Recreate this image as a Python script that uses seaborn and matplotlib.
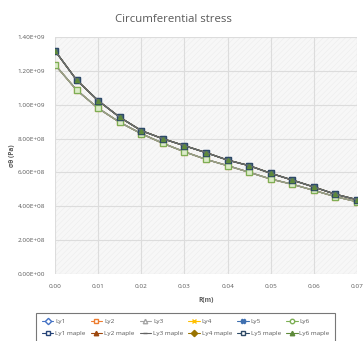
import numpy as np
import pandas as pd
import seaborn as sns
import matplotlib
matplotlib.use("Agg")
import matplotlib.pyplot as plt
from matplotlib.lines import Line2D
from matplotlib.patches import Rectangle
from matplotlib.ticker import FuncFormatter, MultipleLocator

# ---- data ----
r_values = [0.000, 0.005, 0.010, 0.015, 0.020, 0.025, 0.030, 0.035,
            0.040, 0.045, 0.050, 0.055, 0.060, 0.065, 0.070]
ly_stress = [1.236e9, 1.087e9, 0.979e9, 0.896e9, 0.829e9, 0.772e9, 0.722e9, 0.677e9,
             0.640e9, 0.601e9, 0.561e9, 0.530e9, 0.494e9, 0.457e9, 0.427e9]
maple_stress = [1.319e9, 1.146e9, 1.024e9, 0.926e9, 0.847e9, 0.799e9, 0.758e9, 0.717e9,
                0.673e9, 0.640e9, 0.595e9, 0.555e9, 0.514e9, 0.471e9, 0.439e9]
series_names = ["Ly1", "Ly2", "Ly3", "Ly4", "Ly5", "Ly6",
                "Ly1 maple", "Ly2 maple", "Ly3 maple", "Ly4 maple", "Ly5 maple", "Ly6 maple"]
title = "Circumferential stress"
x_label = "R(m)"
y_label = "σθ (Pa)"

# ---- styles ----
colors = {"Ly1": "#4472C4", "Ly2": "#ED7D31", "Ly3": "#A5A5A5", "Ly4": "#FFC000",
          "Ly5": "#3F6FB0", "Ly6": "#7DAF55",
          "Ly1 maple": "#264478", "Ly2 maple": "#9E480E", "Ly3 maple": "#636363",
          "Ly4 maple": "#997300", "Ly5 maple": "#2E4A66", "Ly6 maple": "#5E8A3A"}
legend_markers = {"Ly1": "D", "Ly2": "s", "Ly3": "^", "Ly4": "x", "Ly5": "X", "Ly6": "o",
                  "Ly1 maple": "s", "Ly2 maple": "^", "Ly3 maple": "_", "Ly4 maple": "D",
                  "Ly5 maple": "s", "Ly6 maple": "^"}
plot_markers = dict(legend_markers)
plot_markers["Ly6"] = "s"
line_colors = dict(colors)
line_colors["Ly6"] = "#9DA386"
line_colors["Ly6 maple"] = "#6B6F70"

rows = []
for name in series_names:
    vals = maple_stress if "maple" in name else ly_stress
    for x, y in zip(r_values, vals):
        rows.append({"R": x, "stress": y, "series": name})
df = pd.DataFrame(rows)

sns.set_style("white")
plt.rcParams["font.family"] = ["Open Sans", "DejaVu Sans"]
plt.rcParams["hatch.linewidth"] = 0.35
plt.rcParams["hatch.color"] = "#ebebeb"

fig = plt.figure(figsize=(3.63, 3.41), dpi=100)
ax = fig.add_axes([55 / 363, 1 - 274 / 341, (357 - 55) / 363, (274 - 37) / 341])
ax.set_facecolor("#f7f7f7")
ax.add_patch(Rectangle((0, 0), 1, 1, transform=ax.transAxes, facecolor="none",
                       edgecolor="#ebebeb", hatch="//////", lw=0, zorder=0))

for name in series_names:
    sub = df[df["series"] == name]
    mfc = "#dcebc8" if name == "Ly6" else colors[name]
    if name in ("Ly5 maple", "Ly1 maple"):
        mfc = "#4d6a7a"
    sns.lineplot(data=sub, x="R", y="stress", ax=ax, color=line_colors[name],
                 marker=plot_markers[name], markersize=4.6 if plot_markers[name] == "s" else 3.0,
                 markerfacecolor=mfc, markeredgecolor=colors[name], markeredgewidth=0.9,
                 linewidth=0.9, legend=False, zorder=3)

ax.set_xlim(0, 0.07)
ax.set_ylim(0, 1.4e9)
ax.xaxis.set_major_locator(MultipleLocator(0.01))
ax.yaxis.set_major_locator(MultipleLocator(0.2e9))
ax.xaxis.set_major_formatter(FuncFormatter(lambda v, p: f"{v:.2f}"))
ax.yaxis.set_major_formatter(FuncFormatter(lambda v, p: f"{v:.2E}"))
ax.grid(True, color="#dcdcdc", linewidth=0.8)
ax.set_axisbelow(True)
for s in ax.spines.values():
    s.set_visible(False)
ax.tick_params(axis="both", length=0, labelsize=4.6, labelcolor="#595959", pad=7)

ax.set_xlabel(x_label, fontsize=4.8, color="#595959", fontweight="bold", labelpad=6)
ax.set_ylabel(y_label, fontsize=4.8, color="#595959", fontweight="bold", labelpad=1)
fig.text(173 / 363, 1 - 19 / 341, title, ha="center", va="center", fontsize=8.2, color="#595959")

# legend: matplotlib fills columns first, so interleave to get row-wise order
order = []
for i in range(6):
    order += [series_names[i], series_names[i + 6]]
handles = []
for name in order:
    mk = legend_markers[name]
    mfc = "white" if name in ("Ly2", "Ly6", "Ly1 maple", "Ly5 maple", "Ly3", "Ly1") else colors[name]
    handles.append(Line2D([], [], color=colors[name], marker=mk,
                          markersize=3.2, markerfacecolor=mfc,
                          markeredgecolor=colors[name], linewidth=0.8))
leg = fig.legend(handles, order, loc="upper left", bbox_to_anchor=(36 / 363, 1 - 313 / 341),
                 ncol=6, fontsize=4.6, frameon=True, fancybox=False, edgecolor="#555555",
                 handlelength=1.8, handletextpad=0.3, columnspacing=0.8,
                 labelspacing=1.0, borderpad=0.9, borderaxespad=0)
leg.get_frame().set_linewidth(0.8)
for t in leg.get_texts():
    t.set_color("#595959")

fig.savefig("out.png", dpi=100)
